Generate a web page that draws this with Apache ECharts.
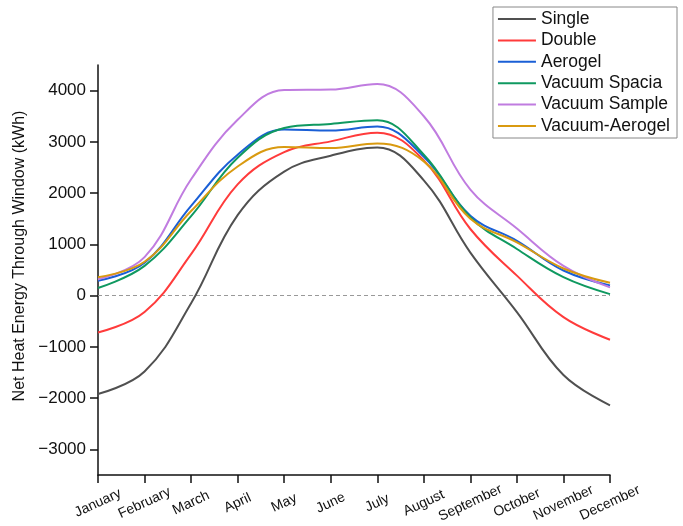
<!DOCTYPE html>
<html>
<head>
<meta charset="utf-8">
<script src="https://cdn.jsdelivr.net/npm/echarts@6/dist/echarts.min.js"></script>
<style>
  html, body { margin: 0; padding: 0; background: #fff; }
  #chart { width: 683px; height: 526px; }
</style>
</head>
<body>
<div id="chart"></div>
<script>
var months = ['January', 'February', 'March', 'April', 'May', 'June', 'July', 'August', 'September', 'October', 'November', 'December'];
var yTicks = [-3000, -2000, -1000, 0, 1000, 2000, 3000, 4000];

var single = [-1920, -1480, -150, 1570, 2420, 2730, 2890, 2250, 840, -320, -1550, -2140];
var double = [-720, -320, 810, 2170, 2800, 3010, 3180, 2640, 1300, 390, -420, -860];
var aerogel = [290, 640, 1750, 2750, 3240, 3220, 3300, 2710, 1560, 1070, 490, 200];
var vacuumSpacia = [150, 580, 1550, 2690, 3270, 3350, 3420, 2750, 1530, 910, 360, 30];
var vacuumSample = [320, 750, 2270, 3430, 4010, 4020, 4130, 3500, 2070, 1310, 580, 160];
var vacuumAerogel = [360, 660, 1650, 2520, 2900, 2880, 2970, 2620, 1500, 1040, 530, 250];

var chartDom = document.getElementById('chart');
var myChart = echarts.init(chartDom);
var font = 'Liberation Sans, Arial, sans-serif';

var mkLine = function (name, data, color) {
  return {
    name: name,
    type: 'line',
    data: data,
    smooth: 0.4,
    symbol: 'none',
    lineStyle: { color: color, width: 2 },
    itemStyle: { color: color },
    z: 3
  };
};

var series = [
  mkLine('Single', single, '#505050'),
  mkLine('Double', double, '#ff3b3b'),
  mkLine('Aerogel', aerogel, '#1a5fd6'),
  mkLine('Vacuum Spacia', vacuumSpacia, '#0f9960'),
  mkLine('Vacuum Sample', vacuumSample, '#c07ce0'),
  mkLine('Vacuum-Aerogel', vacuumAerogel, '#d99a10')
];
// dashed zero line
series[0].markLine = {
  silent: true,
  symbol: 'none',
  label: { show: false },
  lineStyle: { color: '#999', type: [4, 3], width: 1 },
  data: [{ yAxis: 0 }],
  z: 1
};

var option = {
  animation: false,
  textStyle: { fontFamily: font },
  grid: { left: 98, right: 73, top: 65, bottom: 51 },
  legend: {
    orient: 'vertical',
    right: 6,
    top: 7,
    backgroundColor: '#fff',
    borderColor: '#888',
    borderWidth: 1,
    padding: [3, 7, 3, 4],
    itemWidth: 38,
    itemHeight: 14,
    itemGap: 3.4,
    itemStyle: { opacity: 0 },
    lineStyle: { width: 2 },
    textStyle: { fontSize: 17.5, color: '#111', fontFamily: font }
  },
  xAxis: {
    type: 'category',
    data: months,
    boundaryGap: false,
    axisLine: { onZero: false, lineStyle: { color: '#111', width: 1.5 } },
    axisTick: { length: 8, inside: false, lineStyle: { color: '#111', width: 1.5 } },
    axisLabel: {
      rotate: 25, fontSize: 14, color: '#111', margin: 28, interval: 0,
      align: 'center', verticalAlign: 'middle'
    },
    splitLine: { show: false }
  },
  yAxis: [
    {
      type: 'value',
      min: -3500,
      max: 4500,
      interval: 500,
      name: 'Net Heat Energy Through Window (kWh)',
      nameLocation: 'middle',
      nameGap: 68,
      nameTextStyle: { fontSize: 16, color: '#111', padding: [0, 0, 0, 28] },
      axisLine: { show: true, lineStyle: { color: '#111', width: 1.5 } },
      axisTick: { length: 4, lineStyle: { color: '#111', width: 1.5 } },
      axisLabel: {
        fontSize: 17,
        color: '#111',
        margin: 12,
        customValues: yTicks,
        formatter: function (v) { return String(v).replace('-', '\u2212'); }
      },
      splitLine: { show: false }
    },
    {
      type: 'value',
      position: 'left',
      min: -3500,
      max: 4500,
      interval: 500,
      axisLine: { show: false },
      axisTick: { show: true, length: 8, customValues: yTicks, lineStyle: { color: '#111', width: 1.5 } },
      axisLabel: { show: false },
      splitLine: { show: false }
    }
  ],
  series: series
};

option && myChart.setOption(option);
</script>
</body>
</html>
